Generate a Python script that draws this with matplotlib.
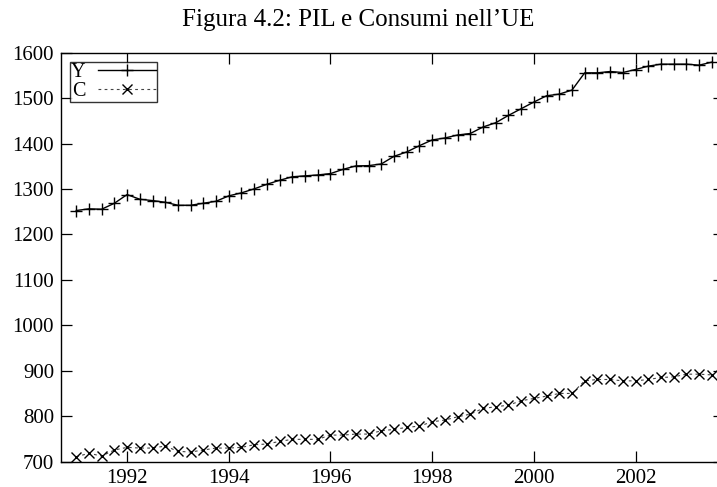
import matplotlib
matplotlib.use("Agg")
import matplotlib.pyplot as plt
import numpy as np

# Quarterly observations, 1991Q1 - 2003Q3
start_year = 1991
n_quarters = 51

Y = [1252.7, 1256.4, 1255.6, 1268.7, 1287.8, 1277.5, 1274.6, 1270.9,
     1264.3, 1264.3, 1268.7, 1273.1, 1285.0, 1291.6, 1300.4, 1310.5,
     1319.3, 1327.0, 1329.0, 1331.0, 1334.0, 1343.4, 1350.9, 1351.5,
     1355.2, 1372.0, 1381.6, 1395.4, 1408.0, 1412.3, 1418.9, 1422.2,
     1436.5, 1445.9, 1462.0, 1476.7, 1491.4, 1505.2, 1508.9, 1517.7,
     1555.7, 1555.7, 1558.6, 1556.4, 1563.0, 1570.4, 1574.8, 1574.8,
     1574.8, 1572.6, 1579.2]

C = [711.0, 718.4, 712.5, 725.7, 731.6, 730.0, 730.0, 734.5,
     722.8, 721.3, 725.7, 730.0, 730.0, 731.6, 737.3, 738.9,
     744.7, 749.2, 749.2, 749.2, 758.6, 758.6, 760.8, 760.8,
     768.0, 771.1, 775.5, 778.4, 787.8, 791.6, 798.8, 804.7,
     817.3, 820.8, 824.5, 834.0, 839.2, 844.3, 850.2, 850.2,
     877.9, 880.9, 880.9, 877.9, 877.9, 880.9, 885.3, 886.6,
     892.6, 892.6, 891.0]

x_ticks = [1992, 1994, 1996, 1998, 2000, 2002]
y_ticks = [700, 800, 900, 1000, 1100, 1200, 1300, 1400, 1500, 1600]

t = start_year + np.arange(n_quarters) / 4.0

plt.rcParams['font.family'] = ['Liberation Serif', 'DejaVu Serif']

fig = plt.figure(figsize=(7.17, 4.87), dpi=100)
ax = fig.add_axes([61 / 717, 1 - 461.7 / 487, (724 - 61) / 717, (461.7 - 52.7) / 487])

ax.plot(t, Y, color='black', linewidth=1.0, marker='+', markersize=8,
        markeredgewidth=1.0, label='Y')
ax.plot(t, C, color='#444444', linewidth=0.8, linestyle=(0, (2.5, 3)),
        marker='x', markersize=6.5, markeredgewidth=1.0,
        markeredgecolor='black', label='C')

ax.set_xlim(1990.7, 2003.74)
ax.set_ylim(700, 1600)
ax.set_xticks(x_ticks)
ax.set_yticks(y_ticks)
ax.tick_params(direction='in', length=8, width=0.9, top=True, right=True,
               labelsize=15, pad=5, colors='black')
for s in ax.spines.values():
    s.set_linewidth(1.0)

leg = ax.legend(loc='upper left', bbox_to_anchor=(0.0135, 0.978),
                markerfirst=False, fontsize=14.5, frameon=True, fancybox=False,
                edgecolor='black', borderpad=0.05, labelspacing=0.0,
                handlelength=2.9, handletextpad=0.6, borderaxespad=0.0)
leg.get_frame().set_linewidth(1.0)

fig.text(0.5, 1 - 20 / 487, "Figura 4.2: PIL e Consumi nell\u2019UE",
         ha='center', va='center', fontsize=18)

fig.savefig('out.png', dpi=100)
